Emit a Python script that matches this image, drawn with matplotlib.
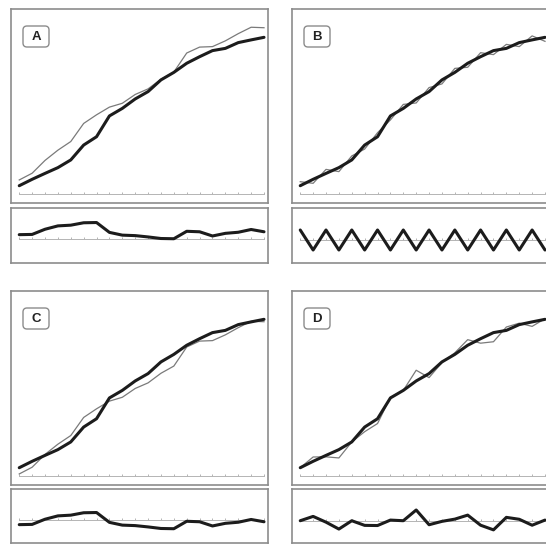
import matplotlib
matplotlib.use("Agg")
import matplotlib.pyplot as plt
from matplotlib.patches import FancyBboxPatch
from matplotlib.transforms import IdentityTransform
import numpy as np

W, H, DPI = 546, 554, 100

# Time steps shared by all four panels
steps = list(range(20))

# Smooth fitted curve (same model in every panel)
fitted = [5.2, 9.2, 12.9, 16.5, 21.3, 30.6, 35.8, 48.8, 53.5, 59.4,
          64.0, 71.3, 76.0, 81.7, 85.8, 89.6, 91.0, 94.6, 96.3, 97.9]

# Residuals (observed - fitted) for each scenario
resid_a = [3.6, 3.8, 8.1, 10.9, 11.5, 13.5, 13.7, 5.5, 3.2, 2.8,
           1.7, 0.4, 0.2, 6.4, 6.0, 2.5, 4.7, 5.6, 7.9, 6.0]
resid_b = [2.5, -2.5, 2.5, -2.5, 2.5, -2.5, 2.5, -2.5, 2.5, -2.5,
           2.5, -2.5, 2.5, -2.5, 2.5, -2.5, 2.5, -2.5, 2.5, -2.5]
resid_c = [-3.9, -3.7, 0.6, 3.4, 4.0, 6.0, 6.2, -2.0, -4.3, -4.7,
           -5.8, -7.1, -7.3, -1.1, -1.5, -5.0, -2.8, -1.9, 0.4, -1.5]
resid_d = [0.0, 2.7, -0.9, -5.2, 0.0, -2.9, -3.0, 0.4, 0.0, 6.7,
           -2.5, -0.4, 1.0, 3.5, -2.8, -5.7, 2.1, 0.9, -2.8, 0.4]

panel_labels = ["A", "B", "C", "D"]

FRAME = "#8c8c8c"
AXISLINE = "#b4b4b4"
DARK = "#1c1c1c"
THIN = "#7a7a7a"

fig = plt.figure(figsize=(W / DPI, H / DPI), dpi=DPI)
fig.patch.set_facecolor("white")


def px_axes(left, top, width, height):
    return fig.add_axes([left / W, 1 - (top + height) / H, width / W, height / H])


def style_frame(ax):
    ax.set_xticks([])
    ax.set_yticks([])
    for sp in ax.spines.values():
        sp.set_color(FRAME)
        sp.set_linewidth(1.2)


def zero_axis(ax, height_px):
    lo, hi = ax.get_ylim()
    tick = 2.0 * (hi - lo) / height_px
    ax.plot([steps[0], steps[-1]], [0, 0], color=AXISLINE, lw=0.7, zorder=1)
    ax.vlines(steps, 0, tick, color=AXISLINE, lw=0.7, zorder=1)


def label_box(text, x_px, y_top_px):
    bw, bh = 26, 21
    patch = FancyBboxPatch((x_px, H - y_top_px - bh), bw, bh,
                           boxstyle="round,pad=0,rounding_size=4",
                           fc="white", ec=FRAME, lw=1.0,
                           transform=IdentityTransform(), zorder=5)
    fig.add_artist(patch)
    fig.text((x_px + bw / 2) / W, 1 - (y_top_px + bh / 2 + 0.5) / H, text,
             ha="center", va="center", fontsize=9.5, fontweight="bold",
             family=["Liberation Sans", "DejaVu Sans"], color="#222222",
             zorder=6)


panels = [
    ("A", resid_a, 11, 9, 208, 55, (-20.0, 25.8)),
    ("B", resid_b, 292, 9, 208, 55, (-5.75, 8.0)),
    ("C", resid_c, 11, 291, 489, 54, (-19.2, 25.8)),
    ("D", resid_d, 292, 291, 489, 54, (-13.9, 19.8)),
]

fit = np.array(fitted)
for name, resid, left, top, rtop, rheight, rlim in panels:
    r = np.array(resid)
    observed = fit + r

    ax = px_axes(left, top, 257, 194)
    style_frame(ax)
    ax.set_xlim(-0.64, 19.31)
    ax.set_ylim(-5.6, 115.6)
    zero_axis(ax, 194)
    ax.plot(steps, observed, color=THIN, lw=0.9, zorder=2)
    ax.plot(steps, fit, color=DARK, lw=2.2, zorder=3,
            solid_joinstyle="round", solid_capstyle="round")

    rx = px_axes(left, rtop, 257, rheight)
    style_frame(rx)
    rx.set_xlim(-0.64, 19.31)
    rx.set_ylim(*rlim)
    zero_axis(rx, rheight)
    rx.plot(steps, r, color=DARK, lw=2.2, zorder=3,
            solid_joinstyle="round", solid_capstyle="round")

    label_box(name, left + 12, top + 17)

fig.savefig("out.png", dpi=DPI, facecolor="white")
